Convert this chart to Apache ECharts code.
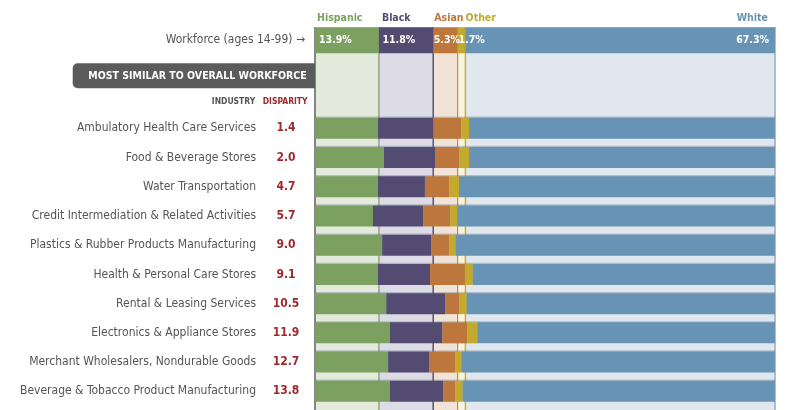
<!DOCTYPE html>
<html>
<head>
<meta charset="utf-8">
<script src="https://cdn.jsdelivr.net/npm/echarts@6/dist/echarts.min.js"></script>
<style>
html,body{margin:0;padding:0;background:#fff;}
#c{width:800px;height:410px;}
</style>
</head>
<body>
<div id="c"></div>
<script>
// ---- data ----
const groups = ['Hispanic', 'Black', 'Asian', 'Other', 'White'];
const workforceLabel = ['Workforce (ages 14-99) \u2192'];
const workforce = [13.9, 11.8, 5.3, 1.7, 67.3];
const categories = [
  'Ambulatory Health Care Services',
  'Food & Beverage Stores',
  'Water Transportation',
  'Credit Intermediation & Related Activities',
  'Plastics & Rubber Products Manufacturing',
  'Health & Personal Care Stores',
  'Rental & Leasing Services',
  'Electronics & Appliance Stores',
  'Merchant Wholesalers, Nondurable Goods',
  'Beverage & Tobacco Product Manufacturing'
];
const disparity = [1.4, 2.0, 4.7, 5.7, 9.0, 9.1, 10.5, 11.9, 12.7, 13.8];
const hispanic = [13.7, 15.0, 13.7, 12.6, 14.6, 13.7, 15.5, 16.3, 15.9, 16.3];
const black    = [12.0, 11.1, 10.2, 10.9, 10.7, 11.3, 12.8, 11.4, 8.9, 11.6];
const asian    = [6.1, 5.2, 5.3, 5.9, 3.9, 7.6, 3.0, 5.4, 5.7, 2.6];
const other    = [1.7, 2.2, 2.1, 1.6, 1.4, 1.7, 1.7, 2.2, 1.3, 1.6];
const white    = [66.5, 66.5, 68.7, 69.0, 69.4, 65.7, 67.0, 64.7, 68.2, 67.9];
const headerTitle = 'MOST SIMILAR TO OVERALL WORKFORCE';
const colIndustry = 'INDUSTRY';
const colDisparity = 'DISPARITY';

// ---- styles ----
const FONT = '"DejaVu Sans Condensed", "Liberation Sans Narrow", sans-serif';
const dark = ['#7ba05f', '#534b72', '#bd763b', '#c4aa2c', '#6794b4'];
const light = ['#e3eadc', '#dddbe6', '#f2e3d7', '#f7f3dc', '#e0e7ef'];
const edge = ['#a3b595', '#5a5278', '#c8875a', '#c9b03a', '#a9bfd4'];
const edgeW = [2, 1.5, 1.2, 1.5, 2];
const RED = '#a0292b';
const GRAY = '#555555';
const series_values = [hispanic, black, asian, other, white];

const L = 315, R = 25;

// cumulative boundaries for column edges
const cum = [];
workforce.reduce((a, v, i) => { cum[i] = a + v; return a + v; }, 0);

const series = [];
// background columns
groups.forEach((g, i) => {
  series.push({
    type: 'bar', xAxisIndex: 0, yAxisIndex: 0, stack: 'bg', barWidth: '100%',
    data: [workforce[i]], itemStyle: { color: light[i] }, silent: true, z: 0
  });
});
// column edge lines (overlay grid with value y axis 0..1)
const edgeVals = [0].concat(cum.map(v => Math.min(v, 100)));
const edgeCols = ['#858585'].concat(edge);
const edgeWs = [2].concat(edgeW);
edgeVals.forEach((v, k) => {
  series.push({
    type: 'line', xAxisIndex: 3, yAxisIndex: 3, z: 1, silent: true, symbol: 'none',
    data: [[v, 0], [v, 1]], lineStyle: { color: edgeCols[k], width: edgeWs[k] }
  });
});
// workforce bar
const wfLabelDist = [4, 3.5, 0.5, 1, 6];
groups.forEach((g, i) => {
  series.push({
    type: 'bar', xAxisIndex: 1, yAxisIndex: 1, stack: 'wf', barWidth: '100%', z: 10,
    data: [workforce[i]], itemStyle: { color: dark[i] },
    label: {
      show: true, position: i === 4 ? 'insideRight' : 'insideLeft', distance: wfLabelDist[i],
      formatter: p => p.value.toFixed(1) + '%',
      color: '#ffffff', fontFamily: FONT, fontWeight: 'bold', fontSize: 10.5
    }
  });
});
// group header labels above workforce bar
const hdrX = [2, 3, 1, 8];
groups.forEach((g, i) => {
  series.push({
    type: 'bar', xAxisIndex: 1, yAxisIndex: 1, stack: 'hdr', barWidth: '100%', barGap: '-100%', z: 11,
    data: [workforce[i]], itemStyle: { color: 'rgba(0,0,0,0)' }, silent: true,
    label: {
      show: true, formatter: g,
      position: i === 4 ? ['100%', -9] : [hdrX[i], -9],
      align: i === 4 ? 'right' : 'left', verticalAlign: 'middle',
      padding: i === 4 ? [0, 7, 0, 0] : 0,
      color: dark[i], fontFamily: FONT, fontWeight: 'bold', fontSize: 10.5
    }
  });
});
// industry bars
groups.forEach((g, i) => {
  series.push({
    type: 'bar', name: g, xAxisIndex: 2, yAxisIndex: 2, stack: 'main', barWidth: 21, z: 10,
    data: series_values[i],
    itemStyle: { color: dark[i], shadowColor: 'rgba(90,110,130,0.35)', shadowBlur: 0, shadowOffsetY: -1.2 }
  });
});

const option = {
  animation: false,
  backgroundColor: '#ffffff',
  grid: [
    { left: L, right: R, top: 27, bottom: 0, outerBoundsMode: 'none', containLabel: false },
    { left: L, right: R, top: 27.3, height: 26, outerBoundsMode: 'none', containLabel: false },
    { left: L, right: R, top: 113.7, bottom: 4.1, outerBoundsMode: 'none', containLabel: false },
    { left: L, right: R, top: 27, bottom: 0, outerBoundsMode: 'none', containLabel: false }
  ],
  xAxis: [0, 1, 2, 3].map(k => ({ type: 'value', gridIndex: k, min: 0, max: 100, show: false })),
  yAxis: [
    { type: 'category', gridIndex: 0, data: ['all'], show: false },
    {
      type: 'category', gridIndex: 1, data: workforceLabel,
      axisLine: { show: false }, axisTick: { show: false }, splitLine: { show: false },
      axisLabel: { margin: 10, color: GRAY, fontFamily: FONT, fontSize: 12 }
    },
    {
      type: 'category', gridIndex: 2, data: categories, inverse: true,
      axisLine: { show: false }, axisTick: { show: false }, splitLine: { show: false },
      axisLabel: {
        margin: 10, interval: 0,
        formatter: (v, idx) => '{n|' + v + '}{d|' + disparity[idx].toFixed(1) + '}',
        rich: {
          n: { color: GRAY, fontFamily: FONT, fontSize: 12, padding: [0, 11, 0, 0] },
          d: { color: RED, fontFamily: FONT, fontSize: 12, fontWeight: 'bold', width: 38, align: 'center' }
        }
      }
    },
    { type: 'value', gridIndex: 3, min: 0, max: 1, show: false }
  ],
  graphic: [
    { type: 'rect', left: 72.7, top: 63.3, shape: { width: 242.3, height: 25, r: [5, 0, 0, 5] }, style: { fill: '#5b5b5b' }, z: 10 },
    { type: 'text', x: 306.7, y: 76, style: { text: headerTitle, fill: '#ffffff', font: 'bold 10.5px ' + FONT, align: 'right', verticalAlign: 'middle' }, z: 11 },
    { type: 'text', x: 255.3, y: 102, style: { text: colIndustry, fill: GRAY, font: 'bold 8.5px ' + FONT, align: 'right', verticalAlign: 'middle' }, z: 11 },
    { type: 'text', x: 262.7, y: 102, style: { text: colDisparity, fill: RED, font: 'bold 8.5px ' + FONT, align: 'left', verticalAlign: 'middle' }, z: 11 }
  ],
  series: series
};

const chart = echarts.init(document.getElementById('c'), null, { renderer: 'canvas' });
chart.setOption(option);
</script>
</body>
</html>
